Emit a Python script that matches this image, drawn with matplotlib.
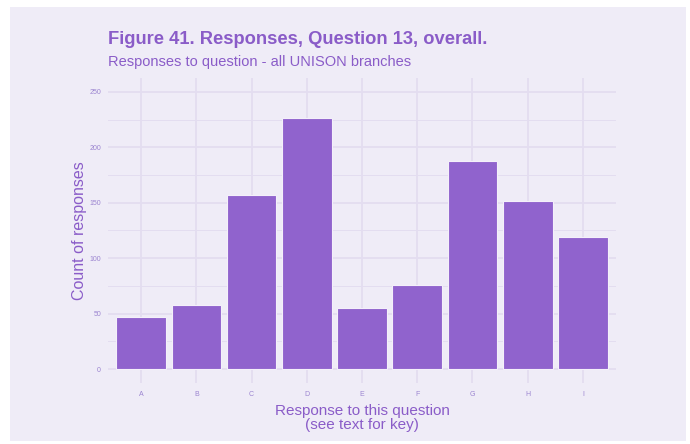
import matplotlib
matplotlib.use("Agg")
import matplotlib.pyplot as plt
from matplotlib.patches import Rectangle

categories = ["A", "B", "C", "D", "E", "F", "G", "H", "I"]
counts = [47, 58, 157, 226, 55, 76, 188, 152, 119]
y_ticks = [0, 50, 100, 150, 200, 250]
y_minor = [25, 75, 125, 175, 225]

title = "Figure 41. Responses, Question 13, overall."
subtitle = "Responses to question - all UNISON branches"
xlabel = "Response to this question\n(see text for key)"
ylabel = "Count of responses"

BG = "#EFECF7"
GRID = "#E3DDF0"
BAR = "#9063CD"
TXT = "#8A5CC8"
TICK = "#9B84D0"

plt.rcParams["font.family"] = ["Liberation Sans", "DejaVu Sans"]

W, H = 690, 444
fig = plt.figure(figsize=(W / 100, H / 100), dpi=100)
fig.patch.set_facecolor("white")
fig.patches.append(Rectangle((10 / W, 1 - 441 / H), 676 / W, 434 / H,
                             transform=fig.transFigure, facecolor=BG,
                             edgecolor="none", zorder=0))

ax = fig.add_axes([108 / W, 1 - 383 / H, (616 - 108) / W, (383 - 78) / H])
ax.set_zorder(2)
ax.set_facecolor(BG)
x = list(range(len(categories)))
ax.bar(x, counts, width=0.9, color=BAR, edgecolor="#F4F0FA", linewidth=0.8, zorder=3)

ax.set_xlim(-0.6, len(categories) - 1 + 0.6)
ax.set_ylim(-12.5, 262.5)
ax.set_xticks(x)
ax.set_xticklabels(categories)
ax.set_yticks(y_ticks)
ax.set_yticks(y_minor, minor=True)
ax.set_axisbelow(True)
ax.grid(True, which="major", color=GRID, linewidth=1.3)
ax.grid(True, which="minor", axis="y", color=GRID, linewidth=0.7)
ax.tick_params(axis="both", which="both", length=0, labelsize=5, labelcolor=TICK)
ax.tick_params(axis="x", pad=6)
ax.tick_params(axis="y", pad=5)
for s in ax.spines.values():
    s.set_visible(False)

ax.set_xlabel(xlabel, fontsize=11, color=TXT, labelpad=4, linespacing=1.0)
ax.set_ylabel(ylabel, fontsize=11.5, color=TXT, labelpad=2)

fig.text(108 / W, 1 - 40 / H, title, fontsize=13.2, fontweight="bold", color=TXT,
         ha="left", va="center")
fig.text(108 / W, 1 - 62 / H, subtitle, fontsize=10.5, color=TXT,
         ha="left", va="center")

fig.savefig("out.png", dpi=100, facecolor=fig.get_facecolor())
